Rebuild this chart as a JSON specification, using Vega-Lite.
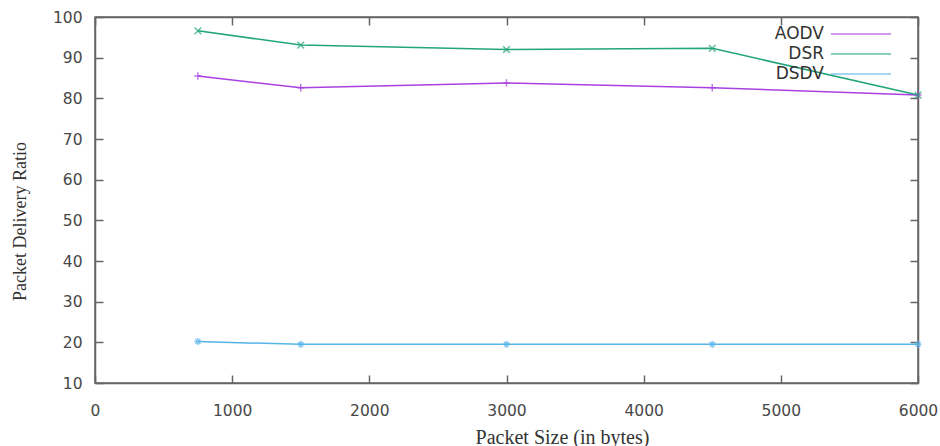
{
  "$schema": "https://vega.github.io/schema/vega-lite/v6.json",
  "autosize": "none",
  "width": 823,
  "height": 366,
  "padding": {"left": 95, "top": 17, "right": 22, "bottom": 63},
  "background": "white",
  "config": {
    "view": {"stroke": "#666666", "strokeWidth": 1.5},
    "axis": {
      "grid": false,
      "domainColor": "#666666",
      "domainWidth": 1.5,
      "tickColor": "#666666",
      "tickWidth": 1.5,
      "tickSize": -8,
      "labelFont": "DejaVu Sans",
      "labelFontSize": 15.5,
      "labelColor": "#484848",
      "titleFont": "Liberation Serif",
      "titleFontWeight": "normal",
      "titleColor": "#333333"
    }
  },
  "data": {
    "values": [
      {"size": 750, "pdr": 85.5, "protocol": "AODV"},
      {"size": 1500, "pdr": 82.6, "protocol": "AODV"},
      {"size": 3000, "pdr": 83.8, "protocol": "AODV"},
      {"size": 4500, "pdr": 82.6, "protocol": "AODV"},
      {"size": 6000, "pdr": 80.8, "protocol": "AODV"},
      {"size": 750, "pdr": 96.6, "protocol": "DSR"},
      {"size": 1500, "pdr": 93.1, "protocol": "DSR"},
      {"size": 3000, "pdr": 92.0, "protocol": "DSR"},
      {"size": 4500, "pdr": 92.3, "protocol": "DSR"},
      {"size": 6000, "pdr": 80.8, "protocol": "DSR"},
      {"size": 750, "pdr": 20.2, "protocol": "DSDV"},
      {"size": 1500, "pdr": 19.5, "protocol": "DSDV"},
      {"size": 3000, "pdr": 19.5, "protocol": "DSDV"},
      {"size": 4500, "pdr": 19.5, "protocol": "DSDV"},
      {"size": 6000, "pdr": 19.5, "protocol": "DSDV"}
    ]
  },
  "resolve": {"axis": {"x": "independent", "y": "independent"}},
  "layer": [
    {
      "mark": {"type": "line", "strokeWidth": 1.5},
      "encoding": {
        "x": {
          "field": "size", "type": "quantitative",
          "scale": {"domain": [0, 6000], "nice": false, "zero": false},
          "axis": {
            "title": "Packet Size (in bytes)",
            "titleFontSize": 20,
            "titleX": 467, "titleY": 54, "titleBaseline": "middle",
            "values": [0, 1000, 2000, 3000, 4000, 5000, 6000],
            "format": "d",
            "labelPadding": 28, "labelFlush": false, "labelOverlap": false
          }
        },
        "y": {
          "field": "pdr", "type": "quantitative",
          "scale": {"domain": [10, 100], "nice": false, "zero": false},
          "axis": {
            "title": "Packet Delivery Ratio",
            "titleFontSize": 18,
            "titleX": -75, "titleY": 204, "titleAngle": -90, "titleAlign": "center", "titleBaseline": "middle",
            "values": [10, 20, 30, 40, 50, 60, 70, 80, 90, 100],
            "labelPadding": 21, "labelFlush": false, "labelOverlap": false
          }
        },
        "color": {
          "field": "protocol", "type": "nominal",
          "sort": ["AODV", "DSR", "DSDV"],
          "scale": {"domain": ["AODV", "DSR", "DSDV"], "range": ["#a940e0", "#22a57a", "#56b4e9"]},
          "legend": {
            "title": null,
            "orient": "none",
            "legendX": 755,
            "legendY": 6,
            "symbolType": "M-3,0H3",
            "symbolSize": 400,
            "symbolStrokeWidth": 1.5,
            "labelAlign": "right",
            "labelOffset": -48,
            "labelFont": "DejaVu Sans",
            "labelFontSize": 17,
            "labelColor": "#333333",
            "rowPadding": 1,
            "padding": 0
          }
        }
      }
    },
    {
      "transform": [{"filter": "datum.protocol === 'AODV'"}],
      "mark": {"type": "point", "filled": false, "strokeWidth": 1.5, "size": 55, "shape": "M-1,0L1,0M0,-1L0,1"},
      "encoding": {
        "x": {
          "field": "size", "type": "quantitative",
          "axis": {"orient": "top", "labels": false, "title": null, "values": [0, 1000, 2000, 3000, 4000, 5000, 6000]}
        },
        "y": {
          "field": "pdr", "type": "quantitative",
          "axis": {"orient": "right", "labels": false, "title": null, "values": [10, 20, 30, 40, 50, 60, 70, 80, 90, 100]}
        },
        "color": {"field": "protocol", "type": "nominal"}
      }
    },
    {
      "transform": [{"filter": "datum.protocol === 'DSR'"}],
      "mark": {"type": "point", "filled": false, "strokeWidth": 1.5, "size": 45, "shape": "M-1,-1L1,1M-1,1L1,-1"},
      "encoding": {
        "x": {"field": "size", "type": "quantitative", "axis": null},
        "y": {"field": "pdr", "type": "quantitative", "axis": null},
        "color": {"field": "protocol", "type": "nominal"}
      }
    },
    {
      "transform": [{"filter": "datum.protocol === 'DSDV'"}],
      "mark": {"type": "point", "filled": false, "strokeWidth": 1.5, "size": 50, "shape": "M-1,0L1,0M0,-1L0,1M-0.7,-0.7L0.7,0.7M-0.7,0.7L0.7,-0.7"},
      "encoding": {
        "x": {"field": "size", "type": "quantitative", "axis": null},
        "y": {"field": "pdr", "type": "quantitative", "axis": null},
        "color": {"field": "protocol", "type": "nominal"}
      }
    }
  ]
}
